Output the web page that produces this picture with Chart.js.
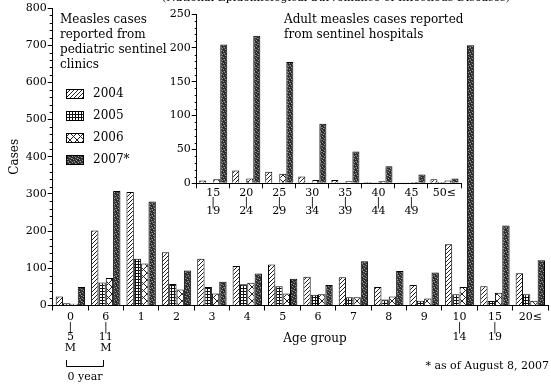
<!DOCTYPE html>
<html>
<head>
<meta charset="utf-8">
<script src="https://cdn.jsdelivr.net/npm/chart.js@4"></script>
<style>
  html, body { margin: 0; padding: 0; background: #fff; }
  #wrap { position: relative; width: 551px; height: 385px; }
  #mainChart { position: absolute; left: 0; top: 0; }
  #adultChart { position: absolute; left: 150px; top: 0; }
</style>
</head>
<body>
<div id="wrap">
  <canvas id="mainChart" width="551" height="385"></canvas>
  <canvas id="adultChart" width="316" height="220"></canvas>
</div>
<script>
// pediatric sentinel clinics, by age group
const ageLabels = [['0', '|', '5', 'M'], ['6', '|', '11', 'M'], '1', '2', '3', '4', '5', '6', '7', '8', '9',
    ['10', '|', '14'], ['15', '|', '19'], '20≤'];
const cases2004 = [24, 202, 305, 143, 126, 106, 110, 77, 76, 50, 55, 165, 52, 87];
const cases2005 = [6, 62, 126, 58, 50, 57, 52, 29, 22, 16, 13, 30, 12, 30];
const cases2006 = [5, 74, 113, 43, 32, 61, 32, 30, 22, 24, 19, 50, 34, 13];
const cases2007 = [50, 308, 280, 94, 64, 86, 72, 55, 119, 93, 89, 700, 215, 122];

// adult cases from sentinel hospitals
const adultLabels = [['15', '|', '19'], ['20', '|', '24'], ['25', '|', '29'], ['30', '|', '34'],
    ['35', '|', '39'], ['40', '|', '44'], ['45', '|', '49'], '50≤'];
const adult2004 = [4, 19, 17, 10, 5, 2, 1, 6];
const adult2005 = [0, 0, 0, 1, 1, 1, 1, 2];
const adult2006 = [6, 7, 14, 5, 3, 3, 2, 4];
const adult2007 = [205, 218, 179, 88, 47, 25, 13, 7];

const yearLabels = ['2004', '2005', '2006', '2007*'];

const FONT = "'DejaVu Serif', serif";
Chart.defaults.font.family = FONT;
Chart.defaults.color = '#000';

let makePattern = function(size, draw) {
    const c = document.createElement('canvas');
    c.width = size;
    c.height = size;
    const g = c.getContext('2d');
    draw(g, size);
    return g.createPattern(c, 'repeat');
};

// 2004: diagonal hatch
const hatch = makePattern(4, function(g, s) {
    g.fillStyle = '#fff';
    g.fillRect(0, 0, s, s);
    g.fillStyle = '#222';
    for (let i = 0; i < s; i++) g.fillRect(i, s - 1 - i, 1, 1);
});
// 2005: fine grid
const grid = makePattern(3, function(g, s) {
    g.fillStyle = '#fff';
    g.fillRect(0, 0, s, s);
    g.fillStyle = '#111';
    g.fillRect(0, 0, s, 1);
    g.fillRect(0, 0, 1, s);
});
// 2006: open crosses
const cross = makePattern(7, function(g, s) {
    g.fillStyle = '#fff';
    g.fillRect(0, 0, s, s);
    g.fillStyle = '#222';
    for (let i = 0; i < s; i++) {
        g.fillRect(i, i, 1, 1);
        g.fillRect(s - 1 - i, i, 1, 1);
    }
});
// 2007: dark stipple
const stipple = makePattern(6, function(g, s) {
    g.fillStyle = '#2b2b2b';
    g.fillRect(0, 0, s, s);
    g.fillStyle = '#9a9a9a';
    [[0, 0], [3, 1], [5, 2], [1, 3], [4, 4], [2, 5]].forEach(function(p) {
        g.fillRect(p[0], p[1], 1, 1);
    });
    g.fillStyle = '#5c5c5c';
    [[2, 0], [0, 2], [4, 1], [3, 3], [5, 5], [1, 5]].forEach(function(p) {
        g.fillRect(p[0], p[1], 1, 1);
    });
});
const fills = [hatch, grid, cross, stipple];

let buildSets = function(series) {
    return series.map(function(values, i) {
        return {
            label: yearLabels[i],
            data: values,
            backgroundColor: fills[i],
            borderColor: '#000',
            borderWidth: 1
        };
    });
};

// short ticks between the labelled ones
const minorTicks = {
    id: 'minorTicks',
    afterDraw(chart, args, opts) {
        const y = chart.scales.y;
        const ctx = chart.ctx;
        ctx.save();
        ctx.strokeStyle = '#000';
        ctx.lineWidth = 1;
        for (let v = y.min; v <= y.max; v += opts.step) {
            if (v % opts.major === 0) continue;
            const py = Math.round(y.getPixelForValue(v)) + 0.5;
            ctx.beginPath();
            ctx.moveTo(y.right - opts.len, py);
            ctx.lineTo(y.right, py);
            ctx.stroke();
        }
        ctx.restore();
    }
};

// legend block, headings and notes
const notes = {
    id: 'notes',
    afterDraw(chart) {
        const ctx = chart.ctx;
        ctx.save();
        ctx.fillStyle = '#000';
        ctx.textBaseline = 'middle';
        ctx.font = '11px ' + FONT;

        ctx.textAlign = 'center';
        ctx.fillText('(National Epidemiological Surveillance of Infectious Diseases)', 336, -2);

        ctx.font = '12px ' + FONT;
        ctx.textAlign = 'left';
        ['Measles cases', 'reported from', 'pediatric sentinel', 'clinics'].forEach(function(t, i) {
            ctx.fillText(t, 60, 20 + i * 14.8);
        });
        ['Adult measles cases reported', 'from sentinel hospitals'].forEach(function(t, i) {
            ctx.fillText(t, 284, 20 + i * 14.5);
        });

        chart.data.datasets.forEach(function(ds, i) {
            const cy = 94 + i * 22;
            ctx.fillStyle = ds.backgroundColor;
            ctx.fillRect(66, cy - 5, 18, 10);
            ctx.strokeStyle = '#000';
            ctx.strokeRect(66.5, cy - 4.5, 17, 9);
            ctx.fillStyle = '#000';
            ctx.fillText(ds.label, 93, cy);
        });

        ctx.textAlign = 'center';
        ctx.fillText('Age group', 315, 339);
        ctx.font = '11px ' + FONT;
        ctx.fillText('0 year', 85, 377);

        ctx.textAlign = 'right';
        ctx.fillText('* as of August 8, 2007', 549, 366);

        // bracket under the two infant groups
        const x = chart.scales.x;
        const x0 = Math.round(x.getPixelForValue(0)) - 3.5;
        const x1 = Math.round(x.getPixelForValue(1)) - 2.5;
        ctx.strokeStyle = '#000';
        ctx.lineWidth = 1;
        ctx.beginPath();
        ctx.moveTo(x0, 360);
        ctx.lineTo(x0, 366.5);
        ctx.lineTo(x1, 366.5);
        ctx.lineTo(x1, 360);
        ctx.stroke();
        ctx.restore();
    }
};

let axisOptions = function(max, step, yWidth, xHeight, fontSize, lineHeight) {
    return {
        x: {
            grid: { drawOnChartArea: false, tickLength: 5, color: '#000' },
            border: { color: '#000' },
            ticks: { autoSkip: false, maxRotation: 0, padding: 1,
                font: { size: fontSize, lineHeight: lineHeight } },
            afterFit: function(scale) { scale.height = xHeight; }
        },
        y: {
            min: 0,
            max: max,
            grid: { drawOnChartArea: false, tickLength: 5, color: '#000' },
            border: { color: '#000' },
            ticks: { stepSize: step, padding: 1, font: { size: fontSize } },
            afterFit: function(scale) { scale.width = yWidth; }
        }
    };
};

const mainScales = axisOptions(800, 100, 52.7, 79.5, 11, 0.95);
mainScales.y.title = { display: true, text: 'Cases', font: { size: 12 }, padding: { top: 8, bottom: 0 } };

new Chart(document.getElementById('mainChart'), {
    type: 'bar',
    data: {
        labels: ageLabels,
        datasets: buildSets([cases2004, cases2005, cases2006, cases2007])
    },
    options: {
        responsive: false,
        animation: false,
        layout: { padding: { top: 8, right: 3, left: 0, bottom: 0 } },
        datasets: { bar: { categoryPercentage: 0.83, barPercentage: 1.0 } },
        plugins: {
            legend: { display: false },
            tooltip: { enabled: false },
            minorTicks: { step: 20, major: 100, len: 3 }
        },
        scales: mainScales
    },
    plugins: [minorTicks, notes]
});

new Chart(document.getElementById('adultChart'), {
    type: 'bar',
    data: {
        labels: adultLabels,
        datasets: buildSets([adult2004, adult2005, adult2006, adult2007])
    },
    options: {
        responsive: false,
        animation: false,
        layout: { padding: { top: 14, right: 5, left: 0, bottom: 0 } },
        datasets: { bar: { categoryPercentage: 0.85, barPercentage: 1.0 } },
        plugins: {
            legend: { display: false },
            tooltip: { enabled: false },
            minorTicks: { step: 10, major: 50, len: 2 }
        },
        scales: axisOptions(250, 50, 46.7, 36.7, 11, 0.78)
    },
    plugins: [minorTicks]
});
</script>
</body>
</html>
